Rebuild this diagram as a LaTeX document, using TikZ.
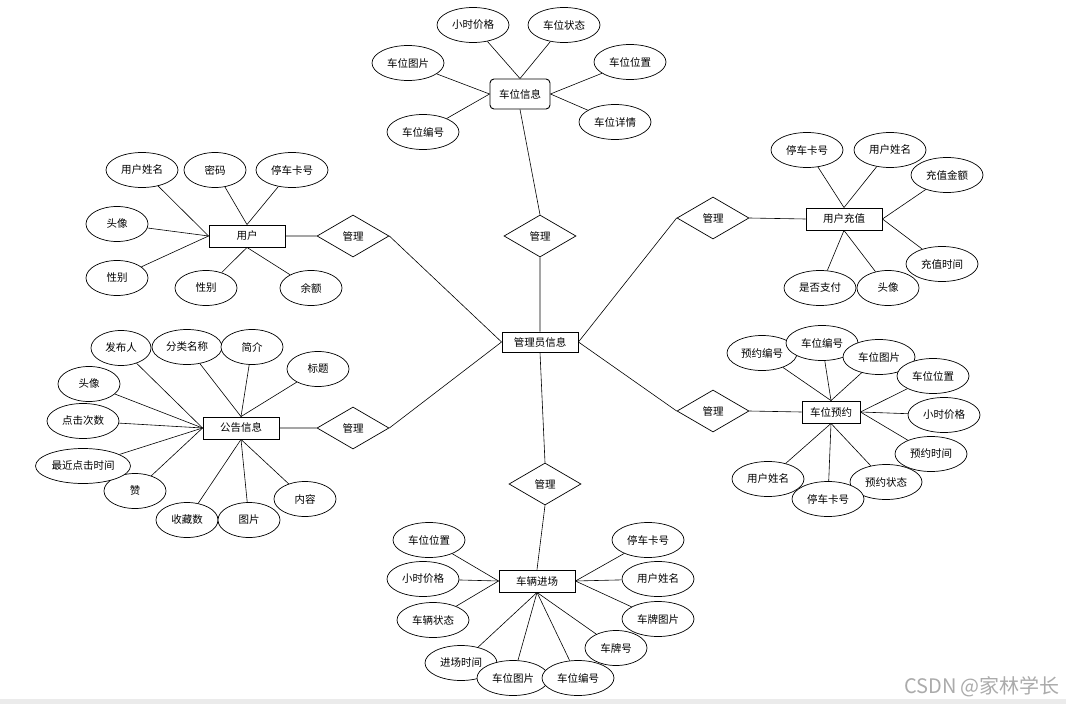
\documentclass[tikz,border=0pt]{standalone}
\usepackage{fontspec}
\setmainfont{Noto Sans CJK SC}
\usetikzlibrary{shapes.geometric}
\begin{document}
\begin{tikzpicture}[x=1pt,y=-1pt,font=\fontsize{10.5}{12}\selectfont,
  entity/.style={draw,fill=white,line width=0.9pt,minimum width=76,minimum height=22,inner sep=0pt},
  attr/.style={ellipse,draw,fill=white,line width=0.7pt,minimum width=72,minimum height=35,inner sep=0pt},
  rel/.style={diamond,draw,fill=white,line width=0.7pt,minimum width=72,minimum height=42,inner sep=0pt},
  link/.style={line width=0.6pt}]
\useasboundingbox[fill=white] (0,0) rectangle (1066,704);
\fill[black!8] (0,699) rectangle (1066,704);
\node[entity,minimum width=76,minimum height=20] (admin) at (540,342) {管理员信息};
\node[entity] (user) at (247,236) {用户};
\node[entity] (notice) at (241,428) {公告信息};
\node[entity,rounded corners=4pt,minimum width=60,minimum height=30] (spaceinfo) at (520,94) {车位信息};
\node[entity] (recharge) at (844,219) {用户充值};
\node[entity,minimum width=58] (booking) at (831,412) {车位预约};
\node[entity] (entry) at (537,581) {车辆进场};
\node[rel] (mUser) at (353,236) {管理};
\node[rel] (mNotice) at (353,428) {管理};
\node[rel] (mSpace) at (540,236) {管理};
\node[rel] (mRecharge) at (713,218) {管理};
\node[rel] (mBooking) at (713,411) {管理};
\node[rel] (mEntry) at (545,484) {管理};
\draw[link] (user.east) -- (mUser.west) (mUser.east) -- (admin.west);
\draw[link] (notice.east) -- (mNotice.west) (mNotice.east) -- (admin.west);
\draw[link] (spaceinfo.south) -- (mSpace.north) (mSpace.south) -- (admin.north);
\draw[link] (recharge.west) -- (mRecharge.east) (mRecharge.west) -- (admin.east);
\draw[link] (booking.west) -- (mBooking.east) (mBooking.west) -- (admin.east);
\draw[link] (admin.south) -- (mEntry.north) (mEntry.south) -- (entry.north);
\foreach \n/\x/\y/\w/\t/\a in {u1/142/170/72/用户姓名/west, u2/215/170/62/密码/north,
  u3/292/170/72/停车卡号/north, u4/117/224/62/头像/west, u5/117/278/62/性别/west,
  u6/206/288/62/性别/south, u7/311/288/62/余额/south}
  {\node[attr,minimum width=\w] (\n) at (\x,\y) {\t}; \draw[link] (\n) -- (user.\a);}
\foreach \n/\x/\y/\w/\t/\a in {n1/121/348/60/发布人/west, n2/187/347/70/分类名称/north,
  n3/252/347/62/简介/north, n4/318/369/62/标题/north, n5/89/384/62/头像/west,
  n6/83/421/72/点击次数/west, n8/135/491/62/赞/west, n7/83/466/95/最近点击时间/west,
  n9/187/520/62/收藏数/south, n10/249/520/62/图片/south, n11/305/499/62/内容/south}
  {\node[attr,minimum width=\w] (\n) at (\x,\y) {\t}; \draw[link] (\n) -- (notice.\a);}
\foreach \n/\x/\y/\w/\t/\a in {s1/473/25/72/小时价格/north, s2/564/25/72/车位状态/north,
  s3/408/63/72/车位图片/west, s4/630/62/72/车位位置/east, s5/423/132/72/车位编号/west,
  s6/615/122/72/车位详情/east}
  {\node[attr,minimum width=\w] (\n) at (\x,\y) {\t}; \draw[link] (\n) -- (spaceinfo.\a);}
\foreach \n/\x/\y/\w/\t/\a in {r1/807/150/72/停车卡号/north, r2/890/150/72/用户姓名/north,
  r3/947/175/72/充值金额/east, r4/942/264/72/充值时间/east, r5/820/288/72/是否支付/south,
  r6/888/288/62/头像/south}
  {\node[attr,minimum width=\w] (\n) at (\x,\y) {\t}; \draw[link] (\n) -- (recharge.\a);}
\foreach \n/\x/\y/\w/\t/\a in {b1/762/353/70/预约编号/north, b2/822/343/72/车位编号/north,
  b3/879/357/72/车位图片/north, b4/933/376/72/车位位置/east, b5/944/415/72/小时价格/east,
  b6/931/454/72/预约时间/east, b7/768/479/72/用户姓名/south, b9/886/482/72/预约状态/south,
  b8/828/499/72/停车卡号/south}
  {\node[attr,minimum width=\w] (\n) at (\x,\y) {\t}; \draw[link] (\n) -- (booking.\a);}
\foreach \n/\x/\y/\w/\t/\a in {e1/429/540/72/车位位置/west, e2/423/579/72/小时价格/west,
  e3/433/620/72/车辆状态/west, e4/461/663/72/进场时间/south, e5/513/678/72/车位图片/south,
  e6/578/678/72/车位编号/south, e7/616/648/62/车牌号/south, e8/658/619/72/车牌图片/east,
  e9/658/579/72/用户姓名/east, e10/648/540/72/停车卡号/east}
  {\node[attr,minimum width=\w] (\n) at (\x,\y) {\t}; \draw[link] (\n) -- (entry.\a);}
\node[black!33,font=\fontsize{20}{22}\selectfont] (mark) at (982,687) {CSDN @家林学长};
\end{tikzpicture}
\end{document}
